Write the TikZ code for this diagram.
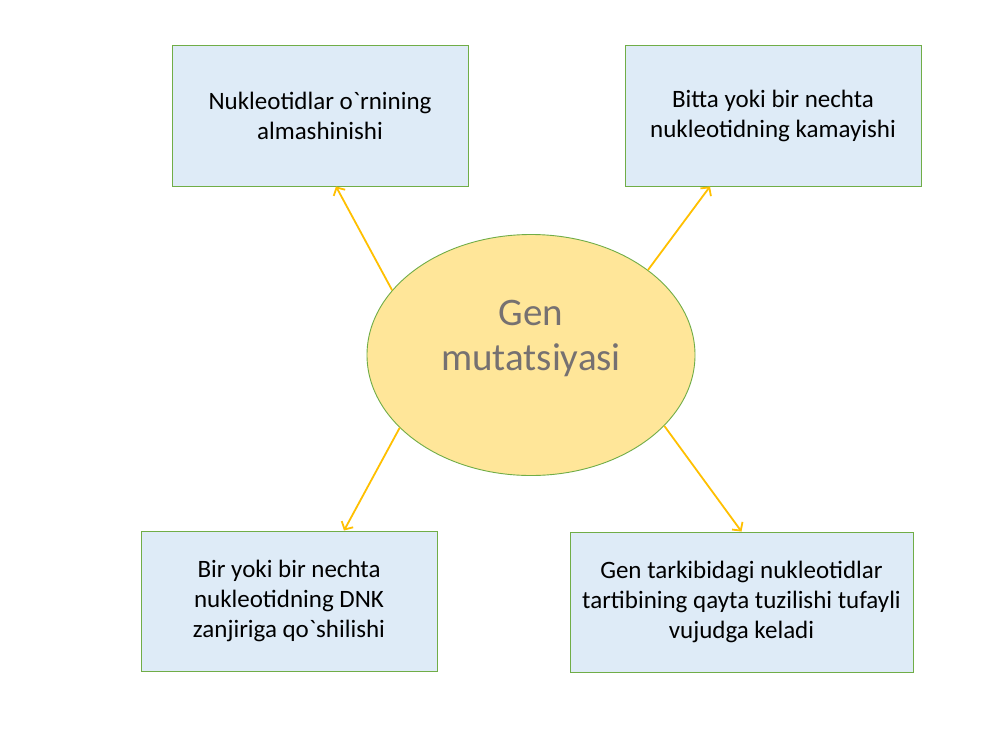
\documentclass[tikz,border=0pt]{standalone}
\usepackage{fontspec}
\setmainfont{Carlito}[Ligatures=TeXOff]
\usetikzlibrary{arrows.meta,shapes.geometric}
\definecolor{boxfill}{HTML}{DEEBF7}
\definecolor{boxline}{HTML}{70AD47}
\definecolor{ellfill}{HTML}{FFE699}
\definecolor{arrcol}{HTML}{FFC000}
\definecolor{gentext}{HTML}{767171}
\tikzset{
  infobox/.style={draw=boxline, line width=0.9pt, fill=boxfill, rectangle, inner sep=0pt,
    align=center, font=\fontsize{25}{30}\selectfont, text=black},
  genell/.style={draw=boxline, line width=0.9pt, fill=ellfill, ellipse, inner sep=0pt,
    minimum width=328pt, minimum height=241pt},
  arr/.style={draw=arrcol, line width=1.8pt, -{Straight Barb[length=6pt,width=13pt,line width=1.8pt]}}
}
\begin{document}
\begin{tikzpicture}[x=1pt,y=-1pt]
\useasboundingbox (0,0) rectangle (1000,750);
\fill[white] (0,0) rectangle (1000,750);

\node[genell] (gen) at (531,355) {};
\node[font=\fontsize{39}{45}\selectfont, text=gentext, align=center] (gentxt) at (531,338) {Gen\\mutatsiyasi};

\node[infobox, minimum width=296pt, minimum height=141pt] (tl) at (320,115.5) {Nukleotidlar o`rnining\\almashinishi};
\node[infobox, minimum width=296pt, minimum height=141pt] (tr) at (773,115.5) {Bitta yoki bir nechta\\nukleotidning kamayishi};
\node[infobox, minimum width=296pt, minimum height=140pt] (bl) at (289,601) {Bir yoki bir nechta\\nukleotidning DNK\\zanjiriga qo`shilishi};
\node[infobox, minimum width=343pt, minimum height=140pt] (br) at (741.5,602) {Gen tarkibidagi nukleotidlar\\tartibining qayta tuzilishi tufayli\\vujudga keladi};

\draw[arr] (gen.155.3) -- ([xshift=16pt]tl.south);
\draw[arr] (gen.36.6) -- ([xshift=-63pt]tr.south);
\draw[arr] (gen.209.4) -- ([xshift=55pt]bl.north);
\draw[arr] (gen.332.4) -- (br.north);
\end{tikzpicture}
\end{document}
